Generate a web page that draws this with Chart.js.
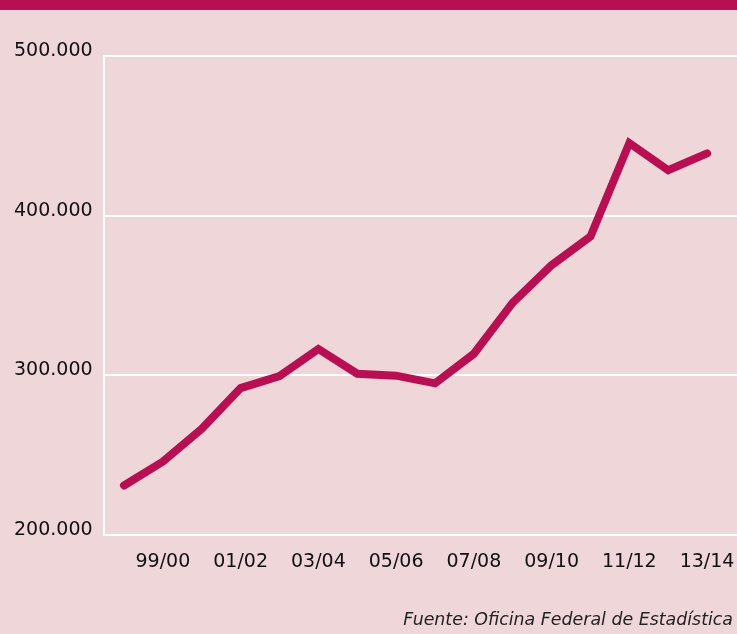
<!DOCTYPE html>
<html>
<head>
<meta charset="utf-8">
<script src="https://cdn.jsdelivr.net/npm/chart.js@4"></script>
<style>
  html, body { margin: 0; padding: 0; }
  body { width: 737px; height: 634px; background: #efd6d9; position: relative; overflow: hidden; font-family: "DejaVu Sans", Verdana, sans-serif; }
  #bar { position: absolute; left: 0; top: 0; width: 737px; height: 10px; background: #b80f52; }
  #wrap { position: absolute; left: 0; top: 10px; width: 737px; height: 624px; }
  #fuente { position: absolute; right: 4px; top: 609px; font-size: 17.4px; font-style: italic; color: #222; }
</style>
</head>
<body>
<div id="bar"></div>
<div id="wrap"><canvas id="lineChart"></canvas></div>
<div id="fuente">Fuente: Oficina Federal de Estadística</div>
<script>
var temporadas = ['98/99', '99/00', '00/01', '01/02', '02/03', '03/04', '04/05', '05/06',
                  '06/07', '07/08', '08/09', '09/10', '10/11', '11/12', '12/13', '13/14'];
var valores = [231000, 246000, 266500, 292000, 299500, 316500, 301000, 299800,
               295000, 313500, 345500, 369000, 387000, 445500, 428500, 439000];
var marcasX = ['99/00', '01/02', '03/04', '05/06', '07/08', '09/10', '11/12', '13/14'];
var marcasY = [200000, 300000, 400000, 500000];

var color = '#b80f52';

var puntos = valores.map(function (v, i) {
  return { x: i, y: v };
});

var ctx = document.getElementById('lineChart').getContext('2d');
var chart = new Chart(ctx, {
  type: 'line',
  data: {
    datasets: [{
      data: puntos,
      borderColor: color,
      borderWidth: 8,
      borderCapStyle: 'round',
      borderJoinStyle: 'miter',
      pointRadius: 0,
      tension: 0,
      fill: false
    }]
  },
  options: {
    responsive: true,
    maintainAspectRatio: false,
    animation: false,
    layout: { padding: { top: 46, left: 14, right: 0, bottom: 0 } },
    plugins: {
      legend: { display: false },
      tooltip: { enabled: false }
    },
    scales: {
      x: {
        type: 'linear',
        min: -0.515,
        max: 15.77,
        grid: { display: false },
        border: { display: false },
        afterBuildTicks: function (scale) {
          scale.ticks = marcasX.map(function (t) {
            return { value: temporadas.indexOf(t) };
          });
        },
        afterFit: function (scale) {
          scale.height = 99;
          scale.paddingLeft = 0;
          scale.paddingRight = 0;
        },
        ticks: {
          padding: 8,
          maxRotation: 0,
          autoSkip: false,
          color: '#111',
          font: { family: 'DejaVu Sans', size: 19 },
          callback: function (value) { return temporadas[value]; }
        }
      },
      y: {
        min: 200000,
        max: 500000,
        afterBuildTicks: function (scale) {
          scale.ticks = marcasY.map(function (v) { return { value: v }; });
        },
        afterFit: function (scale) { scale.width = 90; },
        grid: { color: '#ffffff', lineWidth: 2, drawTicks: false },
        border: { display: true, color: '#ffffff', width: 2 },
        ticks: {
          crossAlign: 'far',
          labelOffset: -5,
          color: '#111',
          font: { family: 'DejaVu Sans', size: 19 },
          callback: function (value) {
            return value.toLocaleString('de-DE');
          }
        }
      }
    }
  }
});
</script>
</body>
</html>
